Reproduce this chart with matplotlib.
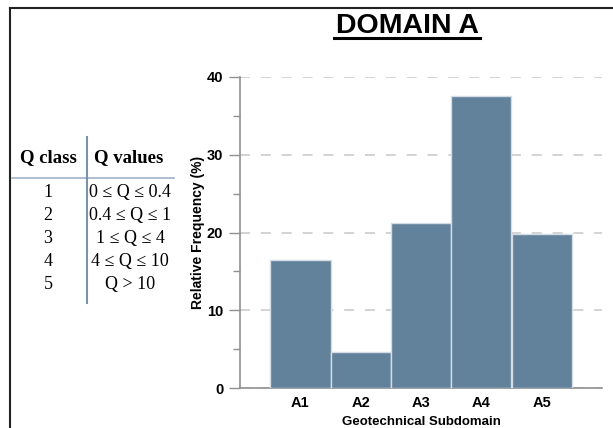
import matplotlib.pyplot as plt
from matplotlib.lines import Line2D
from matplotlib.ticker import MultipleLocator

# relative frequency of each geotechnical subdomain
subdominios = ['A1', 'A2', 'A3', 'A4', 'A5']
frequencias = [16.5, 4.6, 21.2, 37.5, 19.8]

# Q classification table
classes_q = ['1', '2', '3', '4', '5']
valores_q = ['0 ≤ Q ≤ 0.4', '0.4 ≤ Q ≤ 1', '1 ≤ Q ≤ 4', '4 ≤ Q ≤ 10', 'Q > 10']

W, H = 613, 428
fig = plt.figure(figsize=(W / 100, H / 100), dpi=100)

def fx(px):
    return px / W

def fy(py):
    return 1 - py / H

# frame lines at top and left
fig.add_artist(Line2D([fx(10), 1], [fy(8), fy(8)], color='#222222', lw=1.5))
fig.add_artist(Line2D([fx(10), fx(10)], [fy(8), 0], color='#222222', lw=1.5))

# table on the left
serif = ['Liberation Serif', 'DejaVu Serif']
fig.text(fx(48), fy(162), 'Q class', ha='center', va='baseline',
         family=serif, fontsize=13.5, fontweight='bold')
fig.text(fx(129), fy(162), 'Q values', ha='center', va='baseline',
         family=serif, fontsize=13.5, fontweight='bold')
fig.add_artist(Line2D([fx(12), fx(174)], [fy(178), fy(178)], color='#9fb3c6', lw=1.2))
fig.add_artist(Line2D([fx(87), fx(87)], [fy(137), fy(303)], color='#7b93a8', lw=1.5))
for i, (c, v) in enumerate(zip(classes_q, valores_q)):
    yb = 197 + i * 23
    fig.text(fx(48), fy(yb), c, ha='center', va='baseline', family=serif, fontsize=13)
    fig.text(fx(130), fy(yb), v, ha='center', va='baseline', family=serif, fontsize=13)

# title with underline
fig.text(fx(407), fy(33), 'DOMAIN A', ha='center', va='baseline',
         family='Liberation Sans', fontsize=20.5, fontweight='bold')
fig.add_artist(Line2D([fx(334), fx(480)], [fy(37.5), fy(37.5)], color='black', lw=2.2))

ax = fig.add_axes([fx(240), fy(388), fx(602) - fx(240), fy(77) - fy(388)])
posicoes = list(range(1, len(subdominios) + 1))
ax.bar(posicoes, frequencias, width=1.0, color='#62819a', edgecolor='#d4dde5',
       linewidth=1.0, zorder=3)

ax.set_xlim(0, 6)
ax.set_ylim(0, 40)
ax.yaxis.set_major_locator(MultipleLocator(10))
ax.yaxis.set_minor_locator(MultipleLocator(5))
ax.set_xticks(posicoes)
ax.set_xticklabels(subdominios)

ax.grid(axis='y', which='major', color='#cccccc', linestyle=(0, (6, 6.5)), lw=1.2, zorder=0)

for lado in ['top', 'right']:
    ax.spines[lado].set_visible(False)
for lado in ['left', 'bottom']:
    ax.spines[lado].set_color('#909090')
    ax.spines[lado].set_linewidth(1.2)

ax.tick_params(axis='y', which='major', length=8, width=1, color='#909090', pad=4,
               labelsize=10.5)
ax.tick_params(axis='y', which='minor', length=5, width=1, color='#909090')
ax.tick_params(axis='x', length=0, pad=6, labelsize=10.5)
for rot in ax.get_xticklabels() + ax.get_yticklabels():
    rot.set_fontweight('bold')
    rot.set_family('Liberation Sans')

ax.set_xlabel('Geotechnical Subdomain', family='Liberation Sans', fontsize=9.5,
              fontweight='bold', labelpad=4)
ax.set_ylabel('Relative Frequency (%)', family='Liberation Sans', fontsize=10,
              fontweight='bold', labelpad=1.5)

fig.savefig('out.png', dpi=100)
